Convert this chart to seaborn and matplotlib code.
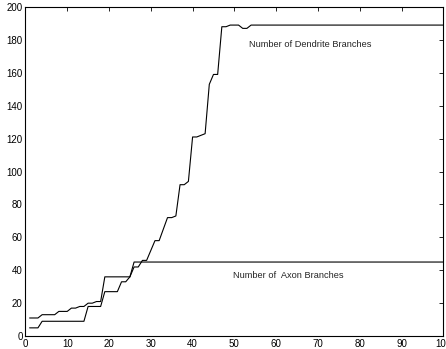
import matplotlib
matplotlib.use("Agg")
import matplotlib.pyplot as plt
import pandas as pd
import seaborn as sns

# Values (x = 1..100)
steps = list(range(1, 101))
dendrite_head = [5, 5, 5, 9, 9, 9, 9, 9, 9, 9, 9, 9, 9, 9, 18, 18, 18, 18,
                 27, 27, 27, 27, 33, 33, 36, 42, 42, 46, 46, 52, 58, 58, 65,
                 72, 72, 73, 92, 92, 94, 121, 121, 122, 123, 153, 159, 159,
                 188, 188, 189, 189, 189, 187, 187]
axon_head = [11, 11, 11, 13, 13, 13, 13, 15, 15, 15, 17, 17, 18, 18, 20, 20,
             21, 21, 36, 36, 36, 36, 36, 36, 36]
dendrite = dendrite_head + [189] * (100 - len(dendrite_head))
axon = axon_head + [45] * (100 - len(axon_head))

df = pd.DataFrame({"step": steps, "dendrite": dendrite, "axon": axon})

sns.set_style("white")
plt.rcParams["font.family"] = ["Liberation Sans", "DejaVu Sans"]
plt.rcParams["font.size"] = 7

fig = plt.figure(figsize=(4.46, 3.49), dpi=100)
ax = fig.add_axes([0.057, 0.037, 0.937, 0.943])

sns.lineplot(data=df, x="step", y="dendrite", color="black", linewidth=0.8, ax=ax)
sns.lineplot(data=df, x="step", y="axon", color="black", linewidth=0.8, ax=ax)

ax.text(53.5, 177, "Number of Dendrite Branches", fontsize=6.7, va="center")
ax.text(49.7, 37, "Number of  Axon Branches", fontsize=6.7, va="center")

ax.set_xlim(0, 100)
ax.set_ylim(0, 200)
ax.set_xticks(range(0, 101, 10))
ax.set_yticks(range(0, 201, 20))
ax.set_xlabel("")
ax.set_ylabel("")
ax.tick_params(direction="in", length=3, width=0.6, top=True, right=True,
               labelsize=7, pad=2, colors="black")
for s in ax.spines.values():
    s.set_visible(True)
    s.set_color("black")
    s.set_linewidth(0.8)

fig.savefig("out.png", dpi=100)
